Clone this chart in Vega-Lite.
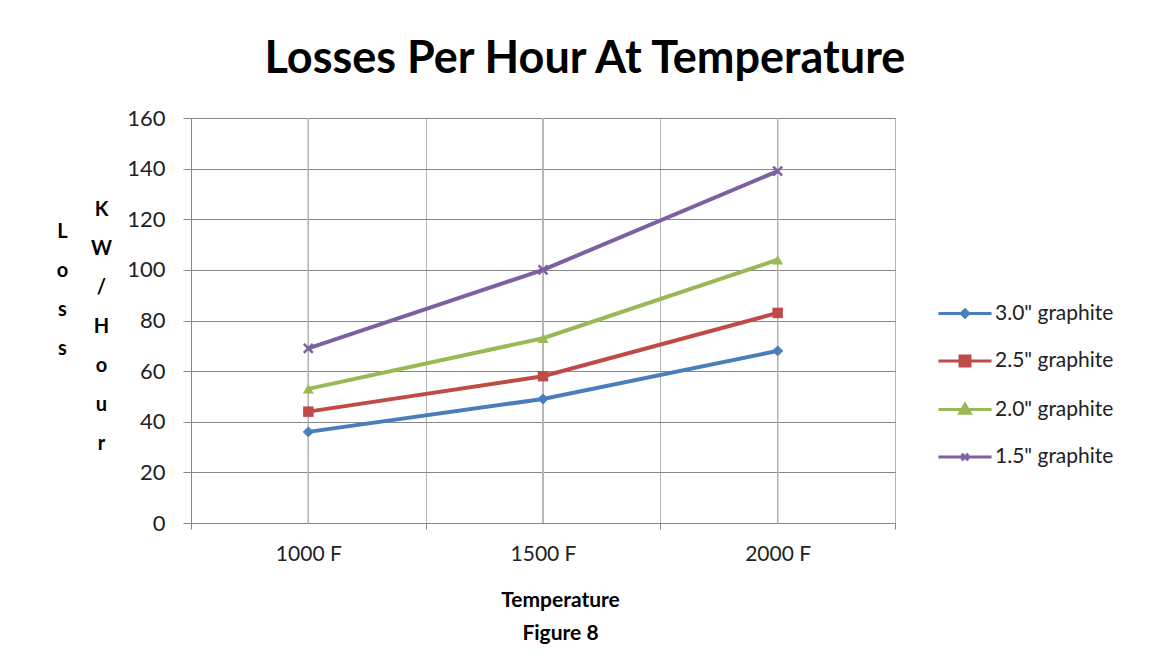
{
  "$schema": "https://vega.github.io/schema/vega-lite/v6.json",
  "width": 704,
  "height": 405,
  "autosize": {"type": "none"},
  "padding": {"left": 191, "top": 118, "right": 254, "bottom": 149},
  "background": "white",
  "config": {"view": {"stroke": "#878787", "strokeWidth": 1}, "font": "Lato"},
  "title": {
    "text": "Losses Per Hour At Temperature",
    "font": "Lato",
    "fontSize": 45,
    "fontWeight": "bold",
    "color": "#000000",
    "anchor": "middle",
    "frame": "group",
    "dx": 42,
    "dy": 56,
    "offset": 45,
    "baseline": "alphabetic"
  },
  "data": {
    "values": [
      {"temp": "1000 F", "series": "3.0\" graphite", "loss": 36},
      {"temp": "1500 F", "series": "3.0\" graphite", "loss": 49},
      {"temp": "2000 F", "series": "3.0\" graphite", "loss": 68},
      {"temp": "1000 F", "series": "2.5\" graphite", "loss": 44},
      {"temp": "1500 F", "series": "2.5\" graphite", "loss": 58},
      {"temp": "2000 F", "series": "2.5\" graphite", "loss": 83},
      {"temp": "1000 F", "series": "2.0\" graphite", "loss": 53},
      {"temp": "1500 F", "series": "2.0\" graphite", "loss": 73},
      {"temp": "2000 F", "series": "2.0\" graphite", "loss": 104},
      {"temp": "1000 F", "series": "1.5\" graphite", "loss": 69},
      {"temp": "1500 F", "series": "1.5\" graphite", "loss": 100},
      {"temp": "2000 F", "series": "1.5\" graphite", "loss": 139}
    ]
  },
  "encoding": {
    "x": {
      "field": "temp", "type": "nominal",
      "scale": {"type": "band", "domain": ["1000 F", "1500 F", "2000 F"], "paddingInner": 0, "paddingOuter": 0},
      "axis": {
        "title": ["Temperature", "Figure 8"], "tickBand": "extent", "grid": true, "gridColor": "#b3b3b3",
        "domainColor": "#878787", "tickColor": "#878787", "tickSize": 6,
        "labelFont": "Lato", "labelFontSize": 21, "labelColor": "#222222", "labelPadding": 14, "labelAngle": 0,
        "titleFont": "Lato", "titleFontSize": 21, "titleFontWeight": "bold", "titleColor": "#000000",
        "titleX": 369, "titleY": 83, "titleAlign": "center", "titleBaseline": "alphabetic", "titleLineHeight": 33
      }
    }
  },
  "layer": [
    {
      "mark": {"type": "rule", "color": "#b3b3b3", "strokeWidth": 1},
      "encoding": {}
    },
    {
      "mark": {"type": "line", "strokeWidth": 4},
      "encoding": {
        "y": {
          "field": "loss", "type": "quantitative",
          "scale": {"domain": [0, 160], "nice": false},
          "axis": {
            "orient": "left", "values": [0, 20, 40, 60, 80, 100, 120, 140, 160],
            "grid": true, "gridColor": "#878787", "domainColor": "#878787", "tickColor": "#878787", "tickSize": 8,
            "labelFont": "Lato", "labelFontSize": 22, "labelColor": "#222222", "labelPadding": 18,
            "title": ["K", "W", "/", "H", "o", "u", "r"], "titleAngle": 0, "titleX": -90, "titleY": 97,
            "titleAlign": "center", "titleBaseline": "alphabetic", "titleLineHeight": 39,
            "titleFont": "Lato", "titleFontSize": 20, "titleFontWeight": "bold", "titleColor": "#000000"
          }
        },
        "color": {
          "field": "series", "type": "nominal",
          "scale": {
            "domain": ["3.0\" graphite", "2.5\" graphite", "2.0\" graphite", "1.5\" graphite"],
            "range": ["#4a7ebb", "#be4b48", "#98b954", "#7d60a0"]
          },
          "legend": {
            "orient": "none", "legendX": 757.5, "legendY": 179, "title": null,
            "symbolSize": 900, "rowPadding": 20.5, "labelOffset": 13.5,
            "labelFont": "Lato", "labelFontSize": 21, "labelColor": "#222222",
            "symbolStrokeWidth": 3,
            "encode": {
              "symbols": {
                "update": {
                  "shape": {"signal": "['M-1.77,0H1.77M0,-0.25L0.25,0L0,0.25L-0.25,0Z','M-1.77,0H1.77M-0.33,-0.33H0.33V0.33H-0.33Z','M-1.77,0H1.77M0,-0.35L0.35,0.25H-0.35Z','M-1.77,0H1.77M-0.22,-0.22L0.22,0.22M-0.22,0.22L0.22,-0.22'][indexof(domain('color'), datum.value)]"},
                  "stroke": {"signal": "scale('color', datum.value)"},
                  "fill": {"signal": "scale('color', datum.value)"},
                  "strokeWidth": {"value": 3},
                  "size": {"value": 900}
                }
              }
            }
          }
        }
      }
    },
    {
      "encoding": {
        "y": {
          "field": "loss", "type": "quantitative",
          "scale": {"domain": [0, 160], "nice": false},
          "axis": {
            "orient": "left", "labels": false, "ticks": false, "domain": false, "grid": false,
            "title": ["L", "o", "s", "s"], "titleAngle": 0, "titleX": -129, "titleY": 119,
            "titleAlign": "center", "titleBaseline": "alphabetic", "titleLineHeight": 39,
            "titleFont": "Lato", "titleFontSize": 20, "titleFontWeight": "bold", "titleColor": "#000000"
          }
        }
      },
      "layer": [
        {
          "transform": [{"filter": "datum.series === '3.0\" graphite'"}],
          "mark": {"type": "point", "shape": "diamond", "filled": true, "opacity": 1, "size": 100, "color": "#4a7ebb", "stroke": "#4a7ebb", "strokeWidth": 1}
        },
        {
          "transform": [{"filter": "datum.series === '2.5\" graphite'"}],
          "mark": {"type": "point", "shape": "square", "filled": true, "opacity": 1, "size": 110, "color": "#be4b48"}
        },
        {
          "transform": [{"filter": "datum.series === '2.0\" graphite'"}],
          "mark": {"type": "point", "shape": "triangle-up", "filled": true, "opacity": 1, "size": 120, "color": "#98b954"}
        },
        {
          "transform": [{"filter": "datum.series === '1.5\" graphite'"}],
          "mark": {"type": "point", "shape": "M-1,-1L1,1M-1,1L1,-1", "filled": false, "opacity": 1, "size": 80, "color": "#7d60a0", "strokeWidth": 2.5}
        }
      ]
    }
  ],
  "resolve": {"axis": {"y": "independent"}}
}
